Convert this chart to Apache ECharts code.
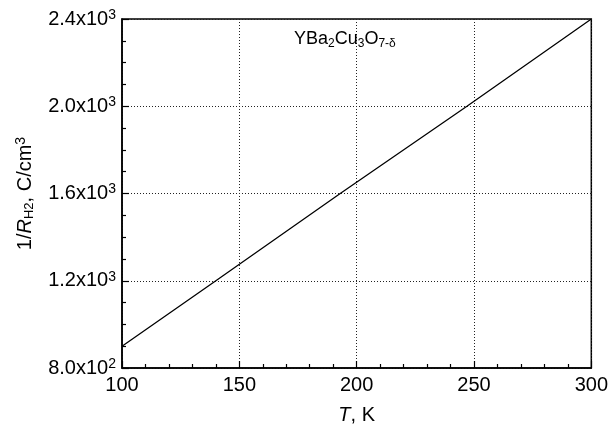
<!DOCTYPE html>
<html>
<head>
<meta charset="utf-8">
<script src="https://cdn.jsdelivr.net/npm/echarts@6/dist/echarts.min.js"></script>
<style>html,body{margin:0;padding:0;background:#fff;}#c{width:611px;height:434px;}</style>
</head>
<body>
<div id="c"></div>
<script>
// Data
const temperatures = [100, 140, 193, 247, 300];      // T, K
const inverseRH2 = [900, 1200, 1600, 2000, 2400];    // 1/R_H2, C/cm^3
const xTicks = [100, 150, 200, 250, 300];
const yTicks = [800, 1200, 1600, 2000, 2400];

const FONT = '"Liberation Sans", Arial, Helvetica, sans-serif';
const chart = echarts.init(document.getElementById('c'), null, {renderer: 'canvas'});

function sciLabel(v) {
  const e = Math.floor(Math.log10(v) + 1e-9);
  const m = (v / Math.pow(10, e)).toFixed(1);
  return '{m|' + m + 'x10}{s|' + e + '}';
}

chart.setOption({
  animation: false,
  backgroundColor: '#fff',
  title: {
    text: '{n|YBa}{b|2}{n|Cu}{b|3}{n|O}{b|7-δ}',
    left: 289, top: 23,
    textStyle: {
      fontWeight: 'normal',
      rich: {
        n: {fontFamily: FONT, fontSize: 18, fontWeight: 'normal', color: '#000', lineHeight: 22, verticalAlign: 'middle'},
        b: {fontFamily: FONT, fontSize: 12, fontWeight: 'normal', color: '#000', lineHeight: 12, verticalAlign: 'bottom', padding: [7, 0, 0, 0]}
      }
    }
  },
  grid: {left: 122, right: 18, top: 19, bottom: 66, show: true, borderColor: '#000', borderWidth: 1.5, backgroundColor: 'transparent'},
  xAxis: {
    type: 'value', min: xTicks[0], max: xTicks[xTicks.length - 1], interval: 50,
    axisLine: {show: true, lineStyle: {color: '#000', width: 1.5}},
    axisTick: {show: true, inside: true, length: 7, lineStyle: {color: '#000', width: 1.2}},
    minorTick: {show: true, splitNumber: 5, length: 4, lineStyle: {color: '#000', width: 1.2}},
    splitLine: {show: true, lineStyle: {color: '#222', type: [1, 2], width: 1}},
    axisLabel: {color: '#000', fontFamily: FONT, fontSize: 20, margin: 7},
    name: '{i|T}{n|, K}', nameLocation: 'middle', nameGap: 37,
    nameTextStyle: {rich: {
      i: {fontFamily: FONT, fontSize: 20, fontStyle: 'italic', color: '#000'},
      n: {fontFamily: FONT, fontSize: 20, color: '#000'}
    }}
  },
  yAxis: {
    type: 'value', min: yTicks[0], max: yTicks[yTicks.length - 1], interval: 400,
    axisLine: {show: true, lineStyle: {color: '#000', width: 1.5}},
    axisTick: {show: true, inside: true, length: 7, lineStyle: {color: '#000', width: 1.2}},
    minorTick: {show: true, splitNumber: 4, length: 4, lineStyle: {color: '#000', width: 1.2}},
    splitLine: {show: true, lineStyle: {color: '#222', type: [1, 2], width: 1}},
    axisLabel: {
      margin: 6,
      formatter: sciLabel,
      rich: {
        m: {fontFamily: FONT, fontSize: 20, color: '#000', lineHeight: 22},
        s: {fontFamily: FONT, fontSize: 14, color: '#000', verticalAlign: 'top', lineHeight: 14, padding: [0, 0, 10, 0]}
      }
    },
    name: '{n|1/}{i|R}{b|H2}{n|, C/cm}{s|3}', nameLocation: 'middle', nameRotate: 90, nameGap: 86,
    nameTextStyle: {rich: {
      n: {fontFamily: FONT, fontSize: 20, color: '#000', lineHeight: 22},
      i: {fontFamily: FONT, fontSize: 20, fontStyle: 'italic', color: '#000', lineHeight: 22},
      b: {fontFamily: FONT, fontSize: 13, color: '#000', verticalAlign: 'bottom', lineHeight: 13, padding: [7, 0, 0, 0]},
      s: {fontFamily: FONT, fontSize: 14, color: '#000', verticalAlign: 'top', lineHeight: 14, padding: [0, 0, 9, 0]}
    }}
  },
  series: [{
    type: 'line',
    data: temperatures.map((t, i) => [t, inverseRH2[i]]),
    showSymbol: false, symbol: 'none',
    lineStyle: {color: '#000', width: 1.3},
    clip: true
  }]
});
</script>
</body>
</html>
